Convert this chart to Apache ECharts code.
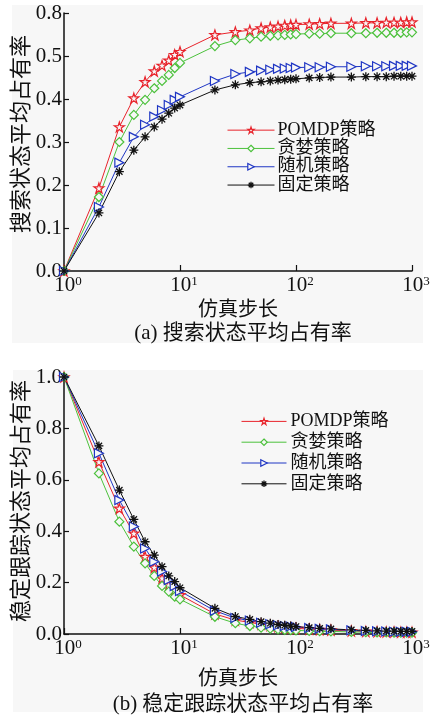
<!DOCTYPE html>
<html>
<head>
<meta charset="utf-8">
<script src="https://cdn.jsdelivr.net/npm/echarts@6/dist/echarts.min.js"></script>
<style>
html,body{margin:0;padding:0;background:#ffffff;}
#chart{width:436px;height:715px;}
</style>
</head>
<body>
<div id="chart"></div>
<script>
// ---------- data ----------
const seriesNames = ['POMDP策略', '贪婪策略', '随机策略', '固定策略'];
const steps = [1,2,3,4,5,6,7,8,9,10,20,30,40,50,60,70,80,90,100,130,160,200,300,400,500,600,700,800,900,1000];

// (a) search-state average occupancy
const searchPomdp  = [0,0.193,0.335,0.402,0.440,0.465,0.478,0.490,0.503,0.510,0.549,0.556,0.560,0.565,0.567,0.569,0.571,0.572,0.573,0.574,0.575,0.576,0.576,0.577,0.577,0.578,0.578,0.578,0.579,0.579];
const searchGreedy = [0,0.172,0.300,0.363,0.398,0.425,0.442,0.456,0.472,0.484,0.523,0.537,0.541,0.545,0.547,0.548,0.549,0.550,0.551,0.552,0.552,0.553,0.553,0.553,0.554,0.554,0.554,0.554,0.555,0.555];
const searchRandom = [0,0.149,0.252,0.312,0.340,0.359,0.374,0.386,0.398,0.405,0.442,0.458,0.463,0.466,0.468,0.470,0.471,0.472,0.473,0.474,0.474,0.475,0.475,0.476,0.476,0.476,0.477,0.477,0.477,0.477];
const searchFixed  = [0,0.135,0.231,0.281,0.312,0.335,0.353,0.367,0.379,0.386,0.421,0.433,0.438,0.440,0.442,0.444,0.445,0.446,0.447,0.449,0.450,0.451,0.451,0.452,0.452,0.452,0.453,0.453,0.453,0.453];

// (b) stable-tracking-state average occupancy
const trackPomdp  = [1,0.670,0.489,0.392,0.301,0.259,0.217,0.190,0.171,0.152,0.078,0.054,0.045,0.038,0.033,0.029,0.026,0.024,0.022,0.019,0.017,0.015,0.012,0.010,0.009,0.008,0.008,0.007,0.007,0.007];
const trackGreedy = [1,0.625,0.437,0.340,0.275,0.226,0.187,0.165,0.145,0.135,0.067,0.042,0.031,0.025,0.021,0.018,0.016,0.015,0.014,0.012,0.011,0.010,0.008,0.007,0.006,0.006,0.005,0.005,0.005,0.005];
const trackRandom = [1,0.703,0.521,0.418,0.333,0.281,0.243,0.210,0.187,0.167,0.090,0.062,0.052,0.044,0.038,0.034,0.031,0.029,0.027,0.023,0.020,0.018,0.014,0.012,0.011,0.010,0.009,0.009,0.009,0.009];
const trackFixed  = [1,0.732,0.560,0.446,0.359,0.307,0.262,0.226,0.204,0.180,0.100,0.068,0.057,0.048,0.042,0.037,0.034,0.031,0.029,0.025,0.022,0.020,0.016,0.014,0.012,0.011,0.011,0.010,0.010,0.010];

// tick labels
const topYLabels = ['0.0','0.1','0.2','0.3','0.4','0.5','0.8'];
const bottomYLabels = ['0.0','0.2','0.4','0.6','0.8','1.0'];
const xLabelName = '仿真步长';
const topYName = '搜索状态平均占有率';
const bottomYName = '稳定跟踪状态平均占有率';
const topCaption = '(a) 搜索状态平均占有率';
const bottomCaption = '(b) 稳定跟踪状态平均占有率';

// ---------- styles ----------
const FONT = '"Liberation Serif", "Noto Sans CJK SC", serif';
const BG = '#f7f7f7';
const colors = ['#e8232b', '#4cc13c', '#1f36c4', '#111111'];
const STAR = 'path://M50,2 L61,36 L97,36 L68,57 L79,92 L50,71 L21,92 L32,57 L3,36 L39,36 Z';
const TRI_R = 'path://M0,0 L100,50 L0,100 Z';
const ASTER = 'path://M0,50 L100,50 M50,0 L50,100 M15,15 L85,85 M85,15 L15,85';
const symbols = [STAR, 'diamond', TRI_R, ASTER];
const symSizes = [10, 9, 9, 9];

function pairs(arr){ return steps.map((x,i)=>[x, arr[i]]); }

function markerStyle(k){
  return k === 3
    ? {color: colors[k], borderColor: colors[k], borderWidth: 1.3}
    : {color: BG, borderColor: colors[k], borderWidth: 1.2};
}

function makeSeries(idx, arrs){
  return arrs.map((arr, k) => ({
    name: seriesNames[k],
    type: 'line',
    xAxisIndex: idx, yAxisIndex: idx,
    data: pairs(arr),
    symbol: symbols[k],
    symbolSize: symSizes[k],
    showAllSymbol: true,
    lineStyle: {color: colors[k], width: 1},
    itemStyle: markerStyle(k),
    emphasis: {disabled: true},
    animation: false
  }));
}

function legendData(){
  return seriesNames.map((n, k) => ({
    name: n,
    itemStyle: markerStyle(k),
    lineStyle: {color: colors[k], width: 1}
  }));
}

function xAxisCfg(idx, gap){
  return {
    type: 'log', logBase: 10, min: 1, max: 1000, gridIndex: idx,
    name: xLabelName, nameLocation: 'middle', nameGap: gap,
    nameTextStyle: {fontFamily: FONT, fontSize: 20, color: '#111'},
    axisLine: {lineStyle: {color: '#111', width: 1.5}},
    axisTick: {inside: true, length: 6, lineStyle: {color: '#111', width: 1.2}},
    minorTick: {show: false},
    splitLine: {show: false},
    axisLabel: {
      margin: 4,
      formatter: v => '{p|}{b|10}{s|' + Math.round(Math.log10(v)) + '}',
      rich: {
        p: {width: 8, fontSize: 21},
        b: {fontFamily: FONT, fontSize: 21, color: '#111'},
        s: {fontFamily: FONT, fontSize: 13, lineHeight: 13, color: '#111', verticalAlign: 'top'}
      }
    }
  };
}

function yAxisCfg(idx, max, interval, labels){
  return {
    type: 'value', gridIndex: idx, min: 0, max: max, interval: interval,
    axisLine: {show: true, lineStyle: {color: '#111', width: 1.5}},
    axisTick: {show: true, inside: true, length: 5, lineStyle: {color: '#111', width: 1.2}},
    splitLine: {show: false},
    axisLabel: {
      margin: 2,
      fontFamily: FONT, fontSize: 21, color: '#111',
      formatter: v => labels[Math.round(v / interval)]
    }
  };
}

const chart = echarts.init(document.getElementById('chart'), null, {renderer: 'canvas'});
chart.setOption({
  backgroundColor: '#ffffff',
  animation: false,
  graphic: [
    {type: 'rect', z: -10, shape: {x: 12, y: 5, width: 411, height: 338}, style: {fill: BG}},
    {type: 'rect', z: -10, shape: {x: 13, y: 370, width: 410, height: 342}, style: {fill: BG}},
    {type: 'text', x: 22, y: 134, rotation: Math.PI / 2,
     style: {text: topYName, fontFamily: FONT, fontSize: 22, fill: '#111', align: 'center', verticalAlign: 'middle'}},
    {type: 'text', x: 22, y: 501, rotation: Math.PI / 2,
     style: {text: bottomYName, fontFamily: FONT, fontSize: 22, fill: '#111', align: 'center', verticalAlign: 'middle'}}
  ],
  title: [
    {text: topCaption, left: 238, top: 318, textAlign: 'center',
     textStyle: {fontFamily: FONT, fontSize: 21, fontWeight: 'normal', color: '#111'}},
    {text: bottomCaption, left: 238, top: 689, textAlign: 'center',
     textStyle: {fontFamily: FONT, fontSize: 21, fontWeight: 'normal', color: '#111'}}
  ],
  legend: [
    {data: legendData(), orient: 'vertical', left: 222, top: 116, itemWidth: 47, itemHeight: 8, itemGap: 0,
     textStyle: {fontFamily: FONT, fontSize: 18, lineHeight: 18.3, color: '#111', padding: [0,0,0,-2]}, selectedMode: false},
    {data: legendData(), orient: 'vertical', left: 236, top: 406, itemWidth: 45, itemHeight: 8, itemGap: 0,
     textStyle: {fontFamily: FONT, fontSize: 18, lineHeight: 20.8, color: '#111', padding: [0,0,0,-1]}, selectedMode: false}
  ],
  grid: [
    {left: 64, top: 13, width: 348, height: 258},
    {left: 64, top: 377, width: 348, height: 257}
  ],
  xAxis: [xAxisCfg(0, 30), xAxisCfg(1, 36)],
  yAxis: [yAxisCfg(0, 0.6, 0.1, topYLabels), yAxisCfg(1, 1.0, 0.2, bottomYLabels)],
  series: [
    ...makeSeries(0, [searchPomdp, searchGreedy, searchRandom, searchFixed]),
    ...makeSeries(1, [trackPomdp, trackGreedy, trackRandom, trackFixed])
  ]
});
</script>
</body>
</html>
